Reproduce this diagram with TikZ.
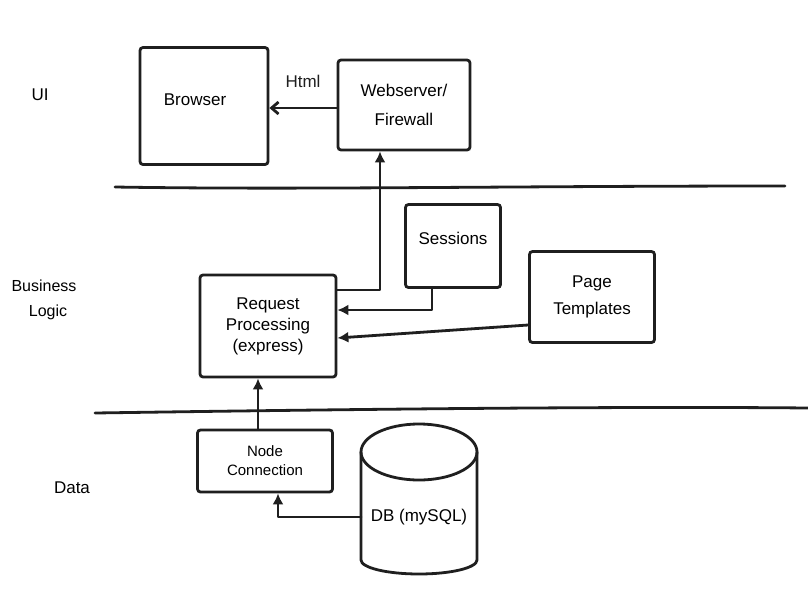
\documentclass[tikz,border=0pt]{standalone}
\usepackage{fontspec}
\setmainfont{Liberation Sans}
\usetikzlibrary{arrows.meta}
\begin{document}
\begin{tikzpicture}[x=1pt,y=-1pt,
  ink/.style={line width=2.8pt,line cap=round,line join=round,black!88},
  box/.style={draw=black!88,line width=2.8pt,rounded corners=3pt,align=center,inner sep=0pt},
  lbl/.style={font=\fontsize{17}{21}\selectfont,align=center},
  fa/.style={ink,-{Latex[length=11pt,width=11pt]}},
  oa/.style={ink,-{Straight Barb[length=7pt,width=12pt]}}]
\useasboundingbox[fill=white] (0,0) rectangle (808,592);
% lane labels
\node[lbl] (ui) at (40,95) {UI};
\node[lbl,font=\fontsize{16}{19}\selectfont] (bl1) at (44,286) {Business};
\node[lbl,font=\fontsize{16}{19}\selectfont] (bl2) at (48,312) {Logic};
\node[lbl] (data) at (72,488) {Data};
% lane separators
\draw[ink] (115,187) .. controls (300,190) and (500,186) .. (785,186);
\draw[ink] (95,413) .. controls (300,410) and (600,406) .. (808,408);
% boxes
\node[box,minimum width=128pt,minimum height=117pt] (browser) at (204,106) {};
\node[lbl] at (195,100) {Browser};
\node[box,minimum width=132pt,minimum height=90pt,lbl] (web) at (404,105) {Webserver/\\[8pt]Firewall};
\node[box,minimum width=95pt,minimum height=83pt] (sess) at (453,246) {};
\node[lbl] at (453,238) {Sessions};
\node[box,minimum width=125pt,minimum height=91pt,lbl] (page) at (592,297) {Page\\[6pt]Templates};
\node[box,minimum width=136pt,minimum height=102pt,lbl] (req) at (268,326) {Request\\Processing\\(express)};
\node[box,minimum width=135pt,minimum height=62pt,lbl,font=\fontsize{15}{19}\selectfont] (nc) at (265,461) {Node\\Connection};
% database cylinder
\draw[ink,fill=white] (361,452) -- (361,560) arc[start angle=180,end angle=360,x radius=58pt,y radius=14pt] -- (477,452);
\draw[ink] (419,452) ellipse[x radius=58pt,y radius=28pt];
\node[lbl] (db) at (419,517) {DB (mySQL)};
\coordinate (dbl) at (361,517);
% connectors
\draw[oa] (web.west |- 0,108) -- (browser.east |- 0,108) node[pos=0.5,above=16pt,lbl] (html) {Html};
\draw[fa] ([yshift=36pt]req.east) -| (web.south -| 380,0);
\draw[fa] (sess.south -| 432,0) |- ([yshift=16pt]req.east);
\draw[fa] ([yshift=-28pt]page.west) -- ([yshift=-12pt]req.east);
\draw[fa] (nc.north -| 258,0) -- (req.south -| 258,0);
\draw[fa] (dbl) -| (nc.south -| 278,0);
\end{tikzpicture}
\end{document}
